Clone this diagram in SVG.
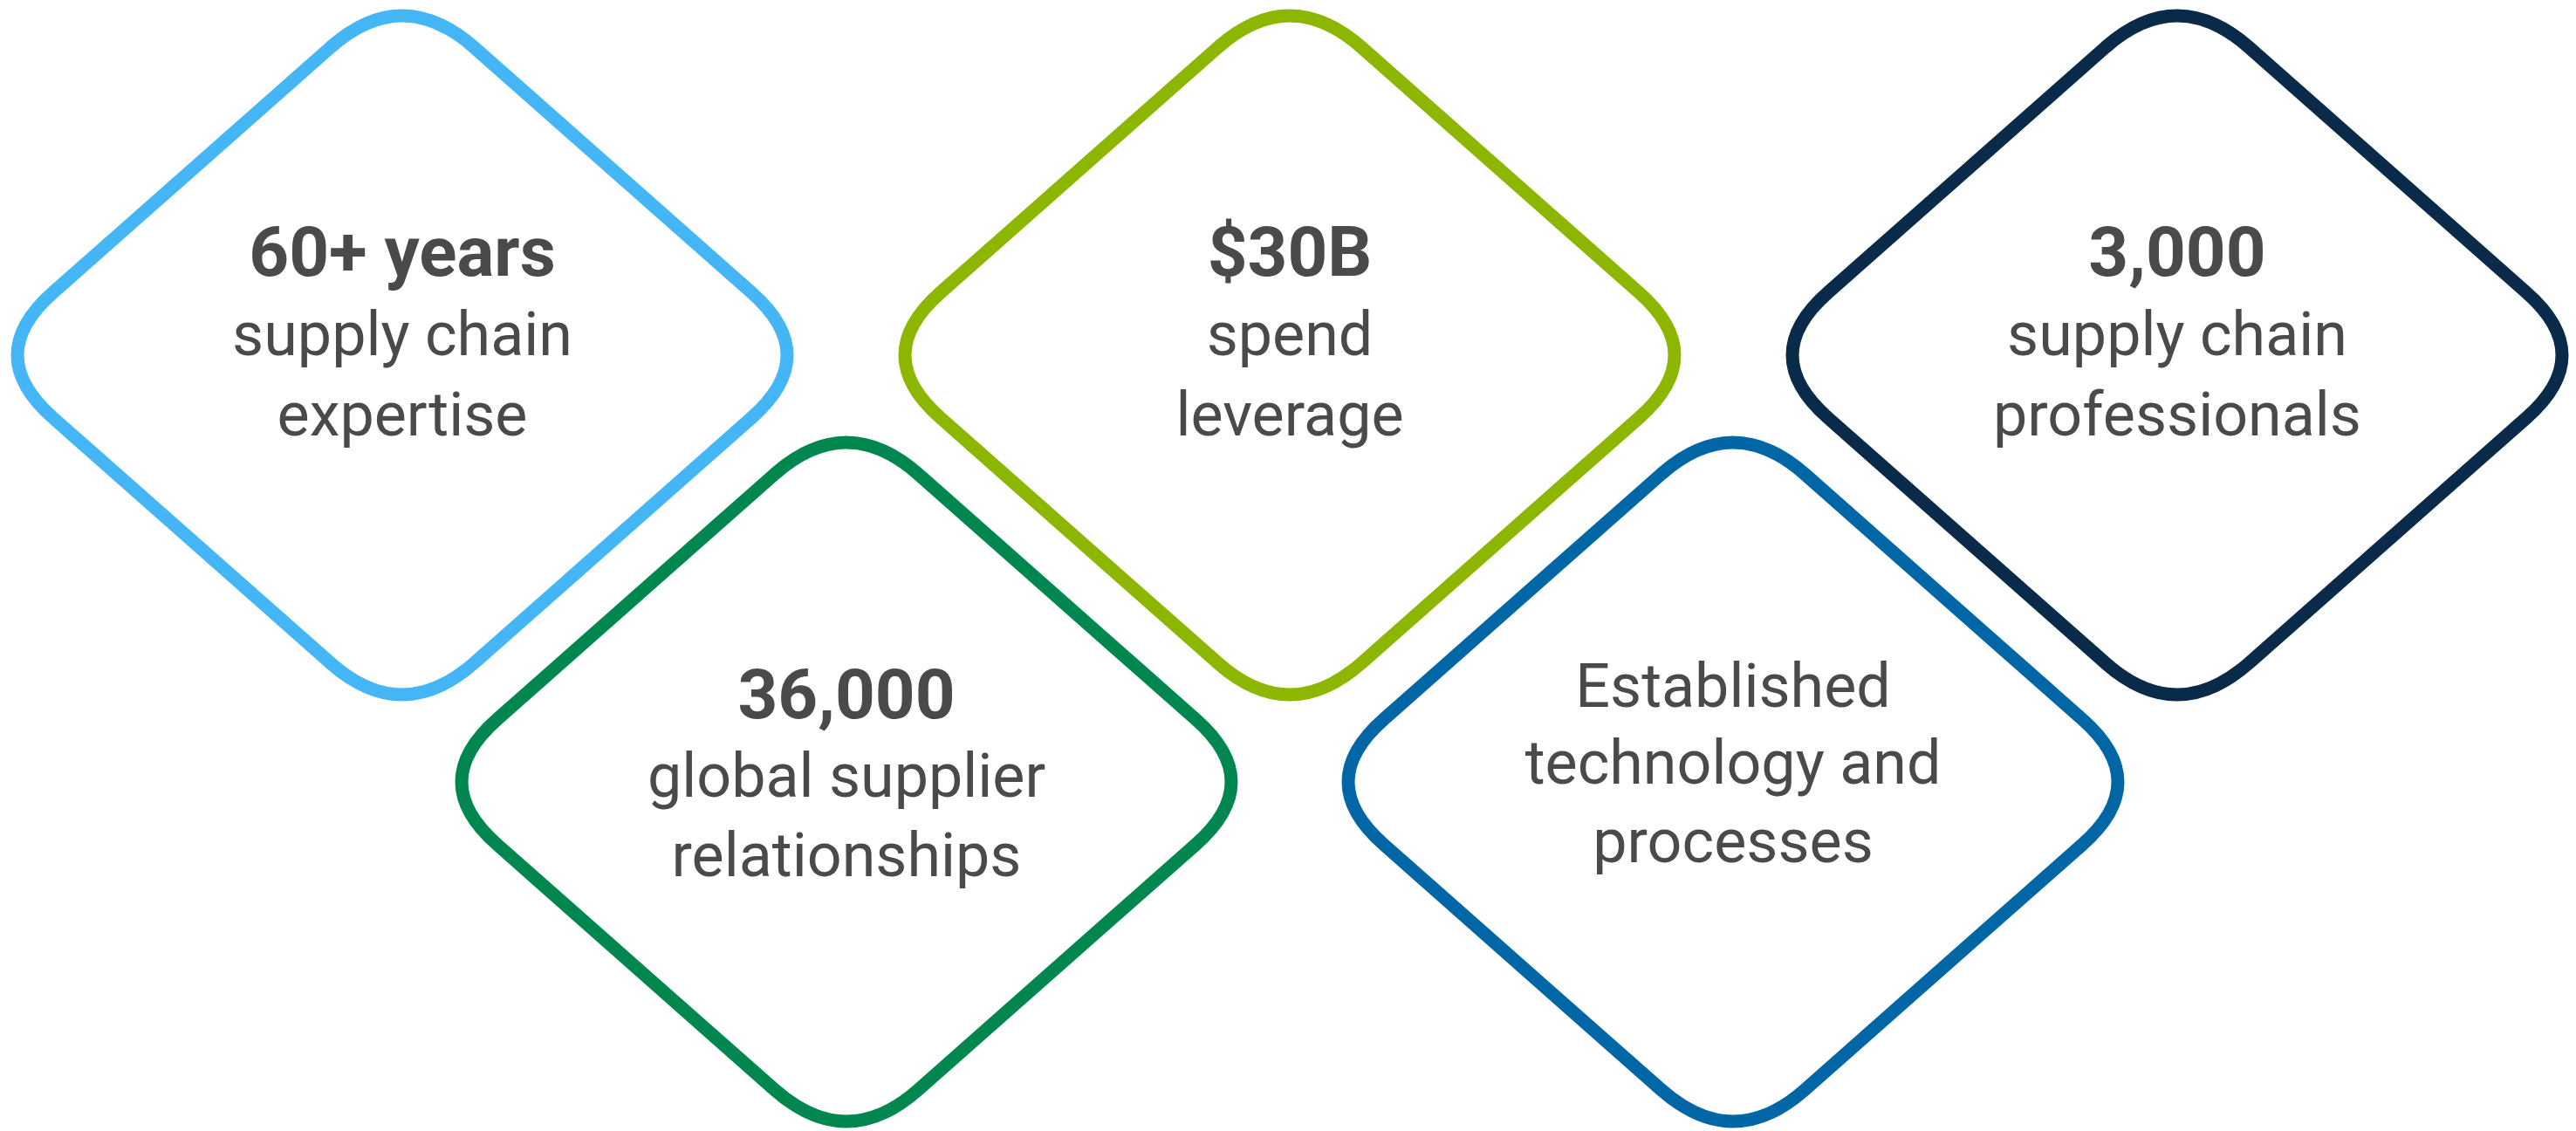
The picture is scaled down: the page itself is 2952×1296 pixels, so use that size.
<svg xmlns="http://www.w3.org/2000/svg" width="2952" height="1296" viewBox="0 0 2952 1296">
<style>
.d{fill:none;stroke-width:15;stroke-linejoin:round}
text{font-family:Roboto,"Liberation Sans",sans-serif;fill:#4a4a4a;text-anchor:middle}
.t{font-weight:bold;font-size:80px}
.s{font-size:70px}
</style>
<defs>
<path id="dm" d="M -82,-353 Q 0,-425 82,-353 L 400,-72 Q 482,0 400,72 L 82,353 Q 0,425 -82,353 L -400,72 Q -482,0 -400,-72 Z"/>
</defs>
<g id="n1" transform="translate(461,407)">
<use href="#dm" class="d" stroke="#45B6F5"/>
<text class="t" y="-91">60+ years</text><text class="s" y="0">supply chain</text><text class="s" y="92">expertise</text>
</g>
<g id="n2" transform="translate(970,896)">
<use href="#dm" class="d" stroke="#00864F"/>
<text class="t" y="-73">36,000</text><text class="s" y="17">global supplier</text><text class="s" y="108">relationships</text>
</g>
<g id="n3" transform="translate(1478,407)">
<use href="#dm" class="d" stroke="#8DB600"/>
<text class="t" y="-91">$30B</text><text class="s" y="0">spend</text><text class="s" y="92">leverage</text>
</g>
<g id="n4" transform="translate(1986,896)">
<use href="#dm" class="d" stroke="#0066A6"/>
<text class="s" y="-86">Established</text><text class="s" y="2">technology and</text><text class="s" y="92">processes</text>
</g>
<g id="n5" transform="translate(2495,407)">
<use href="#dm" class="d" stroke="#0A2A4A"/>
<text class="t" y="-91">3,000</text><text class="s" y="0">supply chain</text><text class="s" y="92">professionals</text>
</g>
<g id="connectors"/>
</svg>
